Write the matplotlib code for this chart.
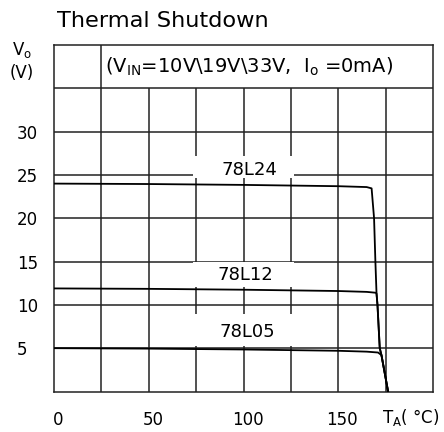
import matplotlib

matplotlib.use("Agg")
import matplotlib.pyplot as plt
import matplotlib.transforms as mtransforms
import numpy as np
from matplotlib.patches import Rectangle

# (temperature in degC, output in V)
temp_24 = [0, 50, 100, 150, 165, 167.6, 168.9, 169.6, 170.2, 170.7, 171.9, 172.8, 176.3]
vout_24 = [24.0, 23.95, 23.85, 23.7, 23.6, 23.45, 20.0, 15.0, 11.3, 10.0, 5.0, 4.2, 0.0]

temp_12 = [0, 50, 100, 150, 165, 169.8, 170.2, 170.7, 171.9, 172.8, 176.3]
vout_12 = [11.9, 11.85, 11.75, 11.6, 11.5, 11.4, 11.3, 10.0, 5.0, 4.2, 0.0]

temp_05 = [0, 50, 100, 150, 165, 171.0, 172.8, 176.3]
vout_05 = [5.0, 4.95, 4.85, 4.7, 4.6, 4.5, 4.2, 0.0]

series = {"78L24": (temp_24, vout_24), "78L12": (temp_12, vout_12), "78L05": (temp_05, vout_05)}

x_ticks = [0, 50, 100, 150]
y_ticks = [5, 10, 15, 20, 25, 30]

GRID = "#222222"

fig = plt.figure(figsize=(4.44, 4.32), dpi=100)
ax = fig.add_axes([54 / 444, 40.5 / 432, 379 / 444, 346.5 / 432])
ax.set_xlim(0, 200)
ax.set_ylim(0, 40)

# table-like grid: top row only split at 25
ax.vlines(np.arange(25, 200, 25), 0, 35, color=GRID, lw=1.1, zorder=1)
ax.vlines(25, 35, 40, color=GRID, lw=1.1, zorder=1)
ax.hlines(np.arange(5, 40, 5), 0, 200, color=GRID, lw=1.1, zorder=1)
for sp in ax.spines.values():
    sp.set_color(GRID)
    sp.set_linewidth(1.1)

# white gaps behind the part labels
label_boxes = {"78L24": (24.6, 27.2), "78L12": (12.05, 14.95), "78L05": (5.3, 9.0)}
label_pos = {"78L24": (103, 25.6), "78L12": (101, 13.4), "78L05": (102, 6.9)}
for name, (y0, y1) in label_boxes.items():
    ax.add_patch(Rectangle((73.6, y0), 52.8, y1 - y0, facecolor="white", edgecolor="none", zorder=2))

for name, (t, v) in series.items():
    ax.plot(t, v, color="black", lw=1.3, zorder=3)
    ax.text(*label_pos[name], name, ha="center", va="center", fontsize=13, zorder=4)

ax.set_xticks(x_ticks)
ax.set_yticks(y_ticks)
ax.tick_params(length=0, labelsize=12)
ax.tick_params(axis="x", pad=14)
ax.tick_params(axis="y", pad=26.6)
for lab in ax.get_yticklabels():
    lab.set_horizontalalignment("left")
shift = mtransforms.ScaledTranslation(4 / 100, 0, fig.dpi_scale_trans)
for lab in ax.get_xticklabels():
    lab.set_transform(lab.get_transform() + shift)

ax.text(27, 37.5, r"(V$_\mathregular{IN}$=10V\19V\33V,  I$_\mathregular{o}$ =0mA)",
        ha="left", va="center", fontsize=14)

fig.text(57 / 444, 1 - 21 / 432, "Thermal Shutdown", ha="left", va="center", fontsize=16.2)
fig.text(22 / 444, 1 - 50 / 432, r"V$_\mathregular{o}$", ha="center", va="center", fontsize=12)
fig.text(22 / 444, 1 - 73 / 432, "(V)", ha="center", va="center", fontsize=12)
fig.text(411 / 444, 1 - 418 / 432, r"T$_\mathregular{A}$( °C)", ha="center", va="center", fontsize=12)

fig.savefig("out.png", dpi=100)
